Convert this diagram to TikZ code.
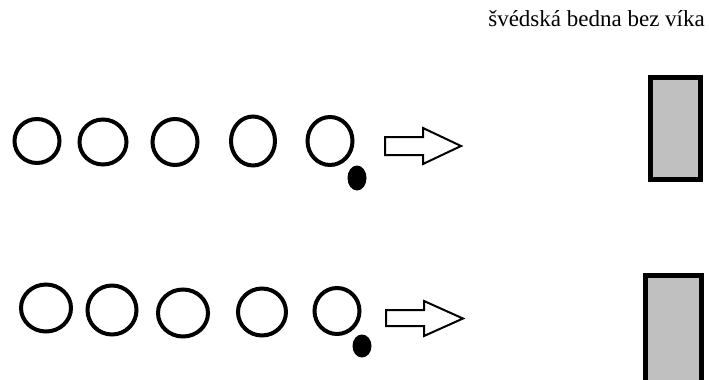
\documentclass[tikz,border=0pt]{standalone}
\usepackage{fontspec}
\setmainfont{Liberation Serif}
\usetikzlibrary{shapes.geometric}
\definecolor{boxgray}{RGB}{192,192,192}
\begin{document}
\begin{tikzpicture}[x=1pt,y=-1pt,
  ring/.style={draw=black,line width=4pt,ellipse,inner sep=0pt,minimum width=#1},
  dotb/.style={fill=black,ellipse,inner sep=0pt,minimum width=19pt,minimum height=25pt},
  blockarrow/.style={draw=black,line width=2pt,fill=white,line join=miter},
  crate/.style={draw=black,line width=5pt,fill=boxgray}]
\useasboundingbox (0,0) rectangle (710,380);
\fill[white] (0,0) rectangle (710,380);
\node[anchor=base east,inner sep=0pt,font=\fontsize{23}{27}\selectfont] (title) at (705,26) {švédská bedna bez víka};
% row 1
\node[ring=45pt,minimum height=44pt] (a1) at (37,141) {};
\node[ring=47pt,minimum height=45pt] (a2) at (103,142) {};
\node[ring=45pt,minimum height=46pt] (a3) at (175,142) {};
\node[ring=44pt,minimum height=49pt] (a4) at (253,141) {};
\node[ring=45pt,minimum height=48pt] (a5) at (330,141) {};
\node[dotb] (ad) at (357,178) {};
\draw[blockarrow] (385,137) -- (423,137) -- (423,128) -- (461,146) -- (423,164) -- (423,155) -- (385,155) -- cycle;
\draw[crate] (650.5,77.5) rectangle (700.5,179.5);
% row 2
\node[ring=50pt,minimum height=47pt] (b1) at (46,308) {};
\node[ring=49pt,minimum height=49pt] (b2) at (112,310) {};
\node[ring=50pt,minimum height=47pt] (b3) at (183,313) {};
\node[ring=48pt,minimum height=47pt] (b4) at (262,312) {};
\node[ring=45pt,minimum height=46pt] (b5) at (337,311) {};
\node[dotb,minimum width=19pt,minimum height=23pt] (bd) at (362,346) {};
\draw[blockarrow] (386,310) -- (424,310) -- (424,301) -- (463,318.5) -- (424,336) -- (424,326) -- (386,326) -- cycle;
\draw[crate] (645.5,275.5) rectangle (701.5,390);
\end{tikzpicture}
\end{document}
